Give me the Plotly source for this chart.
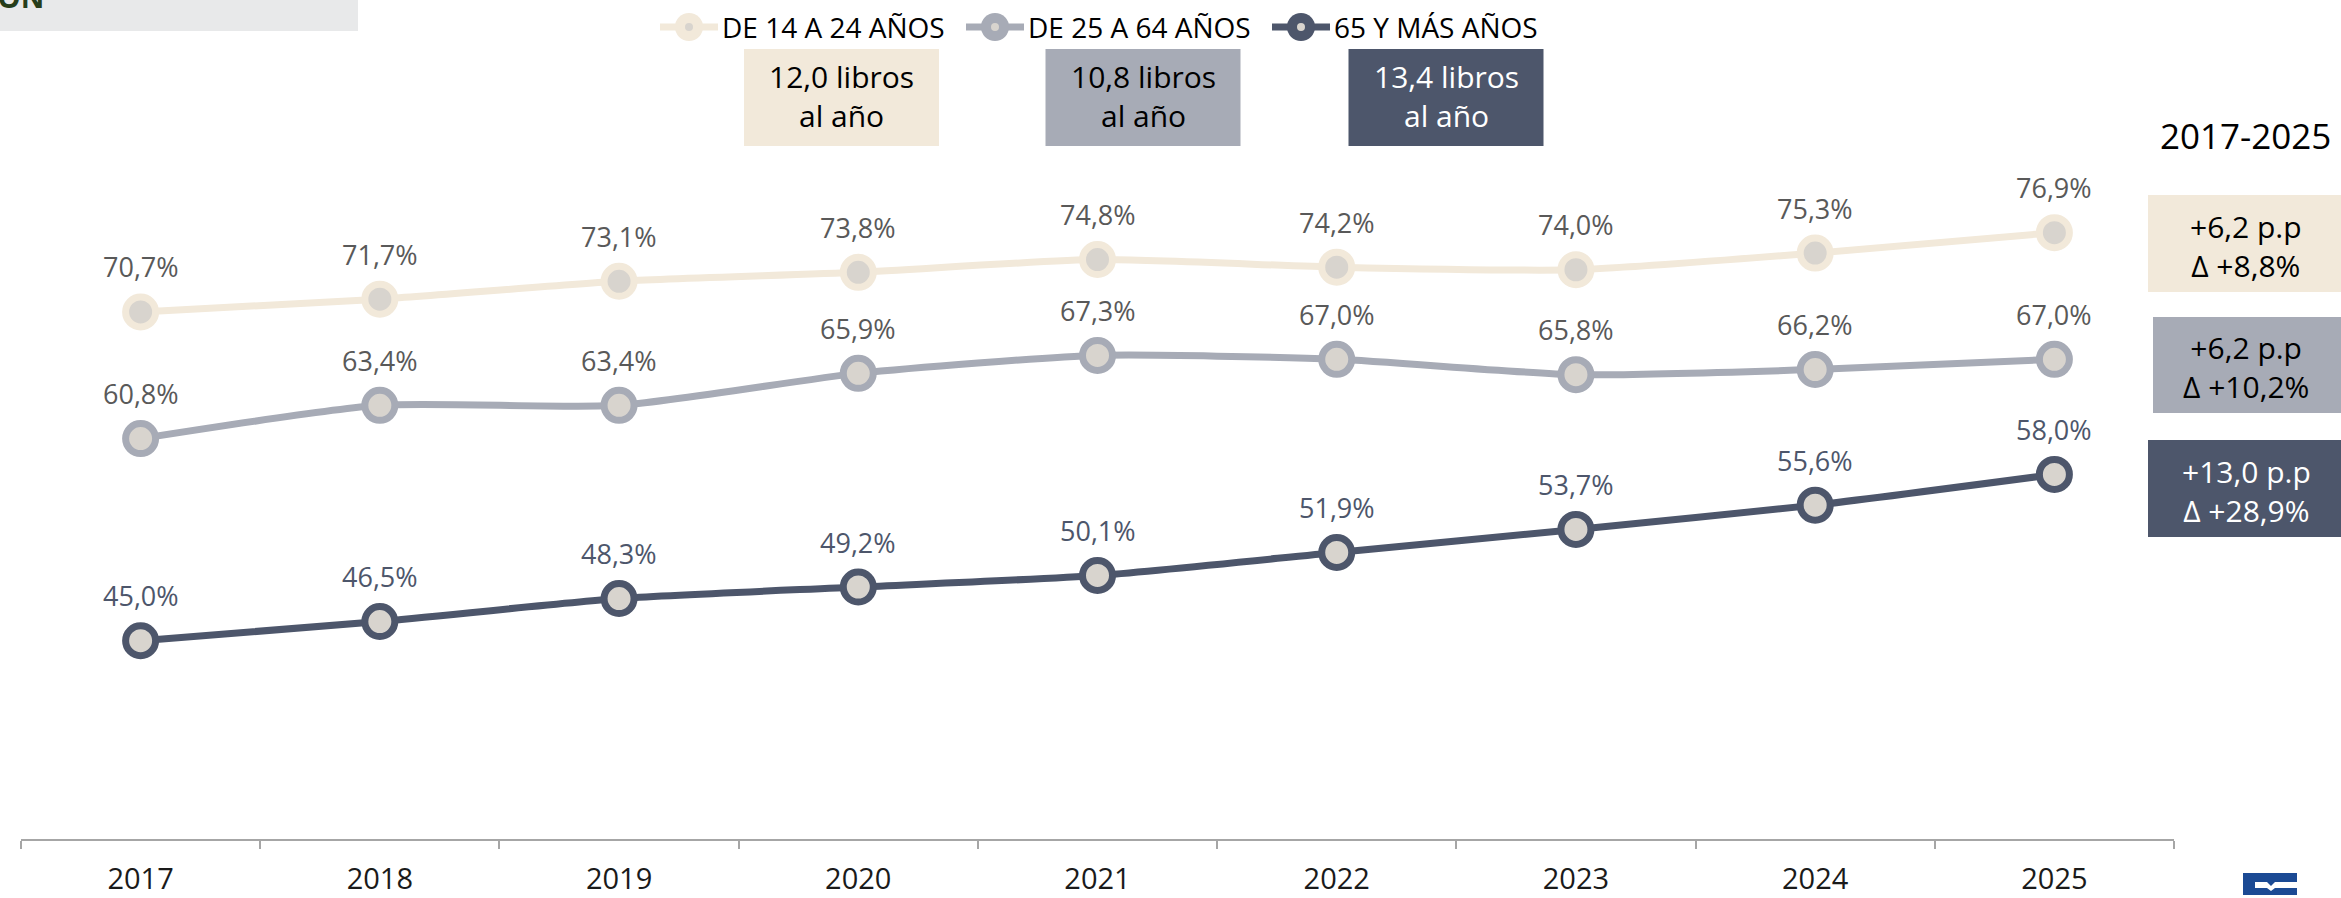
import plotly.graph_objects as go

# ---------------- data ----------------
years = ["2017", "2018", "2019", "2020", "2021", "2022", "2023", "2024", "2025"]
series_names = ["DE 14 A 24 AÑOS", "DE 25 A 64 AÑOS", "65 Y MÁS AÑOS"]
joven = [70.7, 71.7, 73.1, 73.8, 74.8, 74.2, 74.0, 75.3, 76.9]
adulto = [60.8, 63.4, 63.4, 65.9, 67.3, 67.0, 65.8, 66.2, 67.0]
mayor = [45.0, 46.5, 48.3, 49.2, 50.1, 51.9, 53.7, 55.6, 58.0]
libros_anio = [12.0, 10.8, 13.4]
periodo = "2017-2025"
titulo = "EVOLUCIÓN"

# ---------------- style ----------------
W, H = 2341, 898
ML, MR, MT, MB = 21, 167, 193, 59
PW, PH = W - ML - MR, H - MT - MB
line_colors = ["#f2e9da", "#a7abb6", "#4d566b"]
label_colors = ["#595959", "#595959", "#4d566b"]
box_text_colors = ["#000000", "#000000", "#ffffff"]
inner_fill = "#d8d4ce"
FONT = "Open Sans"


def px(x):
    return (x - ML) / PW


def py(y):
    return (MT + PH - y) / PH


def fmt(v):
    return f"{v:.1f}".replace(".", ",")


fig = go.Figure()
all_series = [joven, adulto, mayor]
for name, vals, col in zip(series_names, all_series, line_colors):
    fig.add_trace(go.Scatter(
        x=years, y=vals, name=name, mode="lines+markers",
        line=dict(color=col, width=7, shape="spline", smoothing=0.6),
        marker=dict(size=30, color=inner_fill, line=dict(color=col, width=7)),
        showlegend=False, hoverinfo="skip",
    ))

annotations = []
# data labels
for vals, lc in zip(all_series, label_colors):
    for i, v in enumerate(vals):
        annotations.append(dict(
            x=i, y=v, xref="x", yref="y", text=f"{fmt(v)}%", showarrow=False,
            yshift=45, yanchor="middle", xanchor="center",
            font=dict(family=FONT, size=27, color=lc),
        ))

shapes = []
# custom legend
leg_y = 27
leg_starts = [660, 966, 1272]
for name, col, x0 in zip(series_names, line_colors, leg_starts):
    shapes.append(dict(type="line", xref="paper", yref="paper",
                       x0=px(x0), x1=px(x0 + 58), y0=py(leg_y), y1=py(leg_y),
                       line=dict(color=col, width=7)))
    cx = x0 + 29
    shapes.append(dict(type="circle", xref="paper", yref="paper",
                       x0=px(cx - 14), x1=px(cx + 14), y0=py(leg_y + 14), y1=py(leg_y - 14),
                       fillcolor=col, line=dict(width=0)))
    shapes.append(dict(type="circle", xref="paper", yref="paper",
                       x0=px(cx - 4), x1=px(cx + 4), y0=py(leg_y + 4), y1=py(leg_y - 4),
                       fillcolor=inner_fill, line=dict(width=0)))
    annotations.append(dict(x=px(x0 + 60), y=py(leg_y), xref="paper", yref="paper",
                            text=name, showarrow=False, xanchor="left", yanchor="middle",
                            font=dict(family=FONT, size=28, color="#000000")))

# books per year boxes
box_centers = [841.5, 1143, 1446]
for val, col, tc, cx in zip(libros_anio, line_colors, box_text_colors, box_centers):
    shapes.append(dict(type="rect", xref="paper", yref="paper",
                       x0=px(cx - 97.5), x1=px(cx + 97.5), y0=py(146), y1=py(49),
                       fillcolor=col, line=dict(width=0), layer="below"))
    annotations.append(dict(x=px(cx), y=py(96), xref="paper", yref="paper",
                            text=f"{fmt(val)} libros<br>al año", showarrow=False,
                            xanchor="center", yanchor="middle", align="center",
                            font=dict(family=FONT, size=30, color=tc)))

# period title
annotations.append(dict(x=px(2245), y=py(135), xref="paper", yref="paper",
                        text=periodo, showarrow=False, xanchor="center", yanchor="middle",
                        font=dict(family=FONT, size=35, color="#000000")))

# change boxes
right_boxes = [(2148, 195, 292), (2153, 317, 413), (2148, 440, 537)]
for vals, col, tc, (bx0, by0, by1) in zip(all_series, line_colors, box_text_colors, right_boxes):
    pp = vals[-1] - vals[0]
    pct = pp / vals[0] * 100
    shapes.append(dict(type="rect", xref="paper", yref="paper",
                       x0=px(bx0), x1=px(W + 5), y0=py(by1), y1=py(by0),
                       fillcolor=col, line=dict(width=0), layer="below"))
    cy = (by0 + by1) / 2
    annotations.append(dict(x=px(2246), y=py(cy + 2), xref="paper", yref="paper",
                            text=f"+{fmt(pp)} p.p<br>Δ +{fmt(pct)}%", showarrow=False,
                            xanchor="center", yanchor="middle", align="center",
                            font=dict(family=FONT, size=30, color=tc)))

# top-left title remnant
shapes.append(dict(type="rect", xref="paper", yref="paper",
                   x0=px(-2), x1=px(358), y0=py(31), y1=py(-2),
                   fillcolor="#e8e9ea", line=dict(width=0), layer="below"))
annotations.append(dict(x=px(46), y=py(18.5), xref="paper", yref="paper",
                        text=f"<b>{titulo}</b>", showarrow=False, xanchor="right", yanchor="bottom",
                        font=dict(family=FONT, size=29, color="#263d1a")))

# logo
shapes.append(dict(type="rect", xref="paper", yref="paper",
                   x0=px(2243), x1=px(2297), y0=py(895), y1=py(873),
                   fillcolor="#1b4a94", line=dict(width=0)))
wave = [(2255, 882), (2267, 882), (2271, 886), (2275, 882), (2297, 882),
        (2297, 888), (2275, 888), (2271, 891), (2267, 888), (2255, 888)]
path = "M " + " L ".join(f"{px(a):.6f},{py(b):.6f}" for a, b in wave) + " Z"
shapes.append(dict(type="path", xref="paper", yref="paper", path=path,
                   fillcolor="#ffffff", line=dict(width=0)))

fig.update_layout(
    template="none",
    width=W, height=H,
    margin=dict(l=ML, r=MR, t=MT, b=MB, autoexpand=False),
    paper_bgcolor="#ffffff", plot_bgcolor="#ffffff",
    annotations=annotations, shapes=shapes,
    showlegend=False,
    xaxis=dict(type="category", range=[-0.5, 8.5], tickson="boundaries", automargin=False,
               showgrid=False, zeroline=False, showline=True, linecolor="#a6a6a6", linewidth=1.5,
               ticks="outside", ticklen=8, tickcolor="#a6a6a6", tickwidth=1.5,
               ticklabelstandoff=13,
               tickfont=dict(family=FONT, size=29, color="#1a1a1a")),
    yaxis=dict(range=[29.5, 80.0], visible=False, showgrid=False, zeroline=False, automargin=False),
)

fig.write_html("out.html", config={"displayModeBar": False},
               post_script="document.body.style.margin='0px';document.body.style.overflow='hidden';")
